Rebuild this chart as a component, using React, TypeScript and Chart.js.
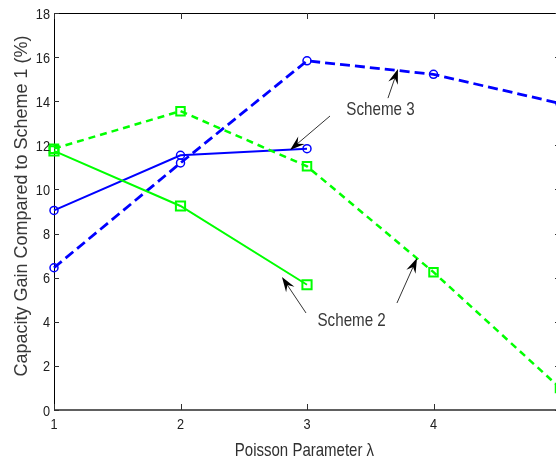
import React, { useEffect, useRef } from "react";
import { Chart, registerables } from "chart.js";

Chart.register(...registerables);

const lambdaValues = [1, 2, 3, 4, 5];
const scheme3Solid = [9.05, 11.55, 11.85];
const scheme3Dashed = [6.45, 11.2, 15.83, 15.22, 13.9];
const scheme2Solid = [11.75, 9.25, 5.68];
const scheme2Dashed = [11.85, 13.55, 11.05, 6.25, 1.0];

const xTickValues = [1, 2, 3, 4, 5];
const yTickValues = [0, 2, 4, 6, 8, 10, 12, 14, 16, 18];

const xTitle = "Poisson Parameter λ";
const yTitle = "Capacity Gain Compared to Scheme 1 (%)";

// annotation labels (data coords of text baseline centre)
const annotationLabels = [
  { text: "Scheme 3", x: 3.581, y: 13.37 },
  { text: "Scheme 2", x: 3.353, y: 3.81 },
];
// arrows: tail -> head in data coords
const annotationArrows = [
  { x0: 3.64, y0: 14.14, x1: 3.719, y1: 15.46 },
  { x0: 3.182, y0: 13.33, x1: 2.866, y1: 11.79 },
  { x0: 2.992, y0: 4.4, x1: 2.802, y1: 6.03 },
  { x0: 3.711, y0: 4.85, x1: 3.87, y1: 6.89 },
];

const toPoints = (vals: number[]) => vals.map((v, i) => ({ x: lambdaValues[i], y: v }));

function drawText(
  ctx: CanvasRenderingContext2D,
  text: string,
  x: number,
  y: number,
  font: string,
  align: CanvasTextAlign,
  baseline: CanvasTextBaseline,
  sx: number,
  color: string
) {
  ctx.save();
  ctx.translate(x, y);
  ctx.scale(sx, 1);
  ctx.font = font;
  ctx.textAlign = align;
  ctx.textBaseline = baseline;
  ctx.fillStyle = color;
  ctx.fillText(text, 0, 0);
  ctx.restore();
}

const framePlugin = {
  id: "matlabFrame",
  beforeDatasetsDraw(chart: any) {
    const { ctx, chartArea } = chart;
    const { left, right, top, bottom } = chartArea;
    const xs = chart.scales.x;
    const ys = chart.scales.y;
    ctx.save();
    ctx.strokeStyle = "#000";
    ctx.lineWidth = 1;
    ctx.beginPath();
    ctx.moveTo(left + 0.5, bottom);
    ctx.lineTo(left + 0.5, top + 0.5);
    ctx.lineTo(right, top + 0.5);
    ctx.lineTo(right, bottom);
    ctx.stroke();
    ctx.strokeStyle = "#606060";
    ctx.lineWidth = 2;
    ctx.beginPath();
    ctx.moveTo(left, bottom);
    ctx.lineTo(right, bottom);
    ctx.stroke();
    ctx.lineWidth = 1;
    ctx.strokeStyle = "#303030";
    ctx.beginPath();
    yTickValues.forEach((v) => {
      const py = Math.round(ys.getPixelForValue(v)) + 0.5;
      ctx.moveTo(left, py);
      ctx.lineTo(left + 5, py);
      ctx.moveTo(right, py);
      ctx.lineTo(right - 5, py);
    });
    xTickValues.forEach((v) => {
      const px = Math.round(xs.getPixelForValue(v)) + 0.5;
      ctx.moveTo(px, bottom);
      ctx.lineTo(px, bottom - 6);
      ctx.moveTo(px, top);
      ctx.lineTo(px, top + 6);
    });
    ctx.stroke();
    ctx.restore();
  },
  afterDraw(chart: any) {
    const { ctx, chartArea } = chart;
    const { left, bottom } = chartArea;
    const xs = chart.scales.x;
    const ys = chart.scales.y;
    const tickFont = "15.5px 'Liberation Sans', Arial, sans-serif";
    const txtColor = "#202020";
    yTickValues.forEach((v) => {
      drawText(ctx, String(v), left - 4, ys.getPixelForValue(v) + 5.5, tickFont, "right", "alphabetic", 0.82, txtColor);
    });
    xTickValues.forEach((v) => {
      drawText(ctx, String(v), xs.getPixelForValue(v), bottom + 19, tickFont, "center", "alphabetic", 0.82, txtColor);
    });
    drawText(
      ctx,
      xTitle,
      xs.getPixelForValue(2.98),
      456,
      "19px 'Liberation Sans', Arial, sans-serif",
      "center",
      "alphabetic",
      0.79,
      "#303030"
    );
    ctx.save();
    ctx.translate(26.5, 206);
    ctx.rotate(-Math.PI / 2);
    ctx.font = "18px 'Liberation Sans', Arial, sans-serif";
    ctx.textAlign = "center";
    ctx.textBaseline = "alphabetic";
    ctx.fillStyle = "#383838";
    ctx.fillText(yTitle, 0, 0);
    ctx.restore();

    annotationLabels.forEach((a) => {
      drawText(
        ctx,
        a.text,
        xs.getPixelForValue(a.x),
        ys.getPixelForValue(a.y),
        "18.5px 'Liberation Sans', Arial, sans-serif",
        "center",
        "alphabetic",
        0.82,
        "#383838"
      );
    });
    annotationArrows.forEach((a) => {
      const x0 = xs.getPixelForValue(a.x0);
      const y0 = ys.getPixelForValue(a.y0);
      const x1 = xs.getPixelForValue(a.x1);
      const y1 = ys.getPixelForValue(a.y1);
      const ang = Math.atan2(y1 - y0, x1 - x0);
      const len = 15;
      const hw = 5;
      ctx.save();
      ctx.strokeStyle = "#333";
      ctx.lineWidth = 1;
      ctx.beginPath();
      ctx.moveTo(x0, y0);
      ctx.lineTo(x1 - Math.cos(ang) * len * 0.6, y1 - Math.sin(ang) * len * 0.6);
      ctx.stroke();
      ctx.fillStyle = "#000";
      ctx.beginPath();
      ctx.moveTo(x1, y1);
      const bx = x1 - Math.cos(ang) * len;
      const by = y1 - Math.sin(ang) * len;
      ctx.lineTo(bx - Math.sin(ang) * hw, by + Math.cos(ang) * hw);
      ctx.lineTo(x1 - Math.cos(ang) * len * 0.65, y1 - Math.sin(ang) * len * 0.65);
      ctx.lineTo(bx + Math.sin(ang) * hw, by - Math.cos(ang) * hw);
      ctx.closePath();
      ctx.fill();
      ctx.restore();
    });
  },
};

export default function App() {
  const ref = useRef<HTMLCanvasElement | null>(null);
  useEffect(() => {
    if (!ref.current) return;
    const blue = "#0000ff";
    const green = "#00ff00";
    const chart = new Chart(ref.current, {
      type: "line",
      data: {
        datasets: [
          {
            label: "Scheme 2 (dashed)",
            data: toPoints(scheme2Dashed),
            borderColor: green,
            borderWidth: 2.5,
            borderDash: [7, 5],
            pointStyle: "rect",
            pointRadius: 6,
            pointBorderWidth: 2,
            pointBorderColor: green,
            pointBackgroundColor: "rgba(0,0,0,0)",
            fill: false,
            tension: 0,
            clip: false,
          } as any,
          {
            label: "Scheme 2 (solid)",
            data: toPoints(scheme2Solid),
            borderColor: green,
            borderWidth: 2,
            pointStyle: "rect",
            pointRadius: 6.5,
            pointBorderWidth: 2,
            pointBorderColor: green,
            pointBackgroundColor: "rgba(0,0,0,0)",
            fill: false,
            tension: 0,
            clip: false,
          } as any,
          {
            label: "Scheme 3 (dashed)",
            data: toPoints(scheme3Dashed),
            borderColor: blue,
            borderWidth: 2.8,
            borderDash: [10, 5],
            pointStyle: "circle",
            pointRadius: 4,
            pointBorderWidth: 1.5,
            pointBorderColor: blue,
            pointBackgroundColor: "rgba(0,0,0,0)",
            fill: false,
            tension: 0,
            clip: false,
          } as any,
          {
            label: "Scheme 3 (solid)",
            data: toPoints(scheme3Solid),
            borderColor: blue,
            borderWidth: 2,
            pointStyle: "circle",
            pointRadius: 4,
            pointBorderWidth: 1.5,
            pointBorderColor: blue,
            pointBackgroundColor: "rgba(0,0,0,0)",
            fill: false,
            tension: 0,
            clip: false,
          } as any,
        ],
      },
      options: {
        animation: false,
        responsive: false,
        layout: { padding: { top: 13, right: 6, left: 0, bottom: 0 }, autoPadding: false } as any,
        plugins: { legend: { display: false }, tooltip: { enabled: false } },
        scales: {
          x: {
            type: "linear",
            min: 1,
            max: 5,
            ticks: { display: false, stepSize: 1 },
            grid: { display: false },
            border: { display: false },
            afterFit: (s: any) => {
              s.height = 49;
            },
          } as any,
          y: {
            min: 0,
            max: 18,
            ticks: { display: false, stepSize: 2 },
            grid: { display: false },
            border: { display: false },
            afterFit: (s: any) => {
              s.width = 54;
            },
          } as any,
        },
      },
      plugins: [framePlugin],
    });
    return () => chart.destroy();
  }, []);
  return (
    <div
      style={{
        position: "fixed",
        left: 0,
        top: 0,
        width: 556,
        height: 459,
        overflow: "hidden",
        background: "#fff",
      }}
    >
      <canvas ref={ref} width={566} height={459} style={{ display: "block" }} />
    </div>
  );
}
